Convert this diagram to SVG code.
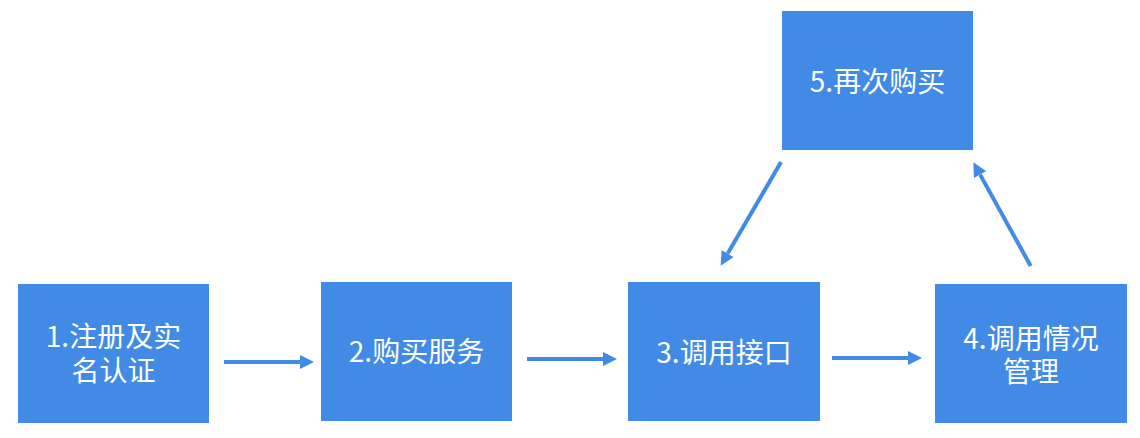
<svg xmlns="http://www.w3.org/2000/svg" width="1140" height="438" viewBox="0 0 1140 438">
  <style>
    .box { fill: #418ae6; }
    .lbl { fill: #ffffff; font-family: "Noto Sans CJK SC", "Noto Sans", sans-serif; font-size: 28px; text-anchor: middle; }
    .conn { stroke: #418ae6; stroke-width: 4; fill: none; marker-end: url(#ah); }
  </style>
  <defs>
    <marker id="ah" markerUnits="userSpaceOnUse" markerWidth="14" markerHeight="14" refX="0" refY="7" orient="auto">
      <path d="M0,0 L14,7 L0,14 z" fill="#418ae6"/>
    </marker>
  </defs>
  <rect width="1140" height="438" fill="#ffffff"/>
  <g id="node1">
    <rect class="box" x="18" y="284" width="191" height="139"/>
    <text class="lbl" x="113.5" y="347">1.注册及实</text>
    <text class="lbl" x="113.5" y="381">名认证</text>
  </g>
  <g id="node2">
    <rect class="box" x="321" y="282" width="191" height="139"/>
    <text class="lbl" x="416.5" y="362">2.购买服务</text>
  </g>
  <g id="node3">
    <rect class="box" x="628" y="282" width="192" height="139"/>
    <text class="lbl" x="724" y="363">3.调用接口</text>
  </g>
  <g id="node4">
    <rect class="box" x="935" y="284" width="192" height="139"/>
    <text class="lbl" x="1031" y="349">4.调用情况</text>
    <text class="lbl" x="1031" y="382">管理</text>
  </g>
  <g id="node5">
    <rect class="box" x="782" y="11" width="191" height="139"/>
    <text class="lbl" x="877.5" y="92">5.再次购买</text>
  </g>
  <g id="connectors">
    <line class="conn" x1="224" y1="362" x2="300" y2="362"/>
    <line class="conn" x1="527" y1="359" x2="603" y2="359"/>
    <line class="conn" x1="832" y1="358" x2="908" y2="358"/>
    <line class="conn" x1="781" y1="162" x2="727.7" y2="253.6"/>
    <line class="conn" x1="1030.7" y1="266" x2="980.1" y2="174.6"/>
  </g>
</svg>
